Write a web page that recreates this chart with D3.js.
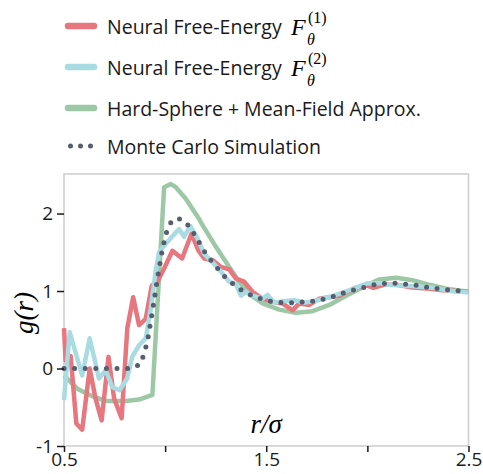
<!DOCTYPE html>
<html>
<head>
<meta charset="utf-8">
<script src="https://cdn.jsdelivr.net/npm/d3@7"></script>
<style>
  body { margin: 0; background: #fff; }
  svg { display: block; }
  .tick text { font-family: 'Open Sans', Lato, sans-serif; font-size: 19px; fill: #1a1a1a; }
  .tick line { stroke: #1a1a1a; stroke-width: 1.5; }
</style>
</head>
<body>
<svg width="483" height="474"></svg>
<script>
// values
const rRed = [0.500, 0.508, 0.533, 0.561, 0.590, 0.627, 0.656, 0.686, 0.720, 0.748, 0.785, 0.813, 0.842, 0.871, 0.904, 0.934, 0.962, 0.995, 1.036, 1.084, 1.130, 1.165, 1.193, 1.234, 1.276, 1.317, 1.350, 1.391, 1.432, 1.482, 1.531, 1.580, 1.630, 1.663, 1.713, 1.762, 1.812, 1.861, 1.900, 1.950, 2.000, 2.030, 2.080, 2.145, 2.210, 2.310, 2.370, 2.500]
const gRed = [0.52, 0.10, 0.16, -0.71, -0.79, 0.00, -0.39, -0.67, 0.15, -0.39, -0.64, 0.52, 0.92, 0.56, 0.64, 1.07, 1.12, 1.29, 1.52, 1.42, 1.74, 1.52, 1.42, 1.40, 1.31, 1.28, 1.16, 1.12, 0.99, 0.90, 0.86, 0.84, 0.75, 0.84, 0.82, 0.90, 0.92, 0.94, 0.99, 1.05, 1.07, 1.04, 1.08, 1.08, 1.05, 1.03, 1.01, 0.99]

const rBlue = [0.500, 0.528, 0.590, 0.627, 0.673, 0.706, 0.739, 0.775, 0.812, 0.837, 0.871, 0.904, 0.929, 0.953, 0.970, 1.003, 1.069, 1.094, 1.124, 1.160, 1.193, 1.234, 1.276, 1.317, 1.350, 1.375, 1.400, 1.432, 1.482, 1.507, 1.540, 1.590, 1.640, 1.690, 1.740, 1.795, 1.845, 1.900, 1.950, 2.000, 2.070, 2.100, 2.170, 2.230, 2.330, 2.370, 2.420, 2.500]
const gBlue = [-0.41, 0.47, -0.09, 0.39, -0.13, -0.02, -0.24, -0.28, -0.13, 0.15, 0.30, 0.39, 0.77, 1.25, 1.50, 1.61, 1.80, 1.70, 1.84, 1.68, 1.48, 1.37, 1.25, 1.12, 1.09, 0.94, 0.99, 0.94, 0.90, 0.95, 0.85, 0.87, 0.88, 0.85, 0.87, 0.91, 0.95, 1.00, 1.05, 1.10, 1.10, 1.08, 1.07, 1.06, 1.04, 1.02, 1.00, 0.98]

const rGreen = [0.500, 0.566, 0.624, 0.707, 0.806, 0.871, 0.937, 0.995, 1.028, 1.053, 1.102, 1.168, 1.185, 1.251, 1.317, 1.366, 1.416, 1.482, 1.564, 1.647, 1.729, 1.812, 1.895, 1.994, 2.059, 2.142, 2.224, 2.307, 2.390, 2.500]
const gGreen = [-0.09, -0.26, -0.34, -0.42, -0.42, -0.40, -0.34, 2.34, 2.38, 2.34, 2.19, 1.93, 1.85, 1.57, 1.31, 1.12, 0.96, 0.84, 0.76, 0.72, 0.74, 0.82, 0.94, 1.07, 1.15, 1.17, 1.14, 1.08, 1.03, 0.99]

const rMC = [0.500, 0.830, 0.880, 0.912, 0.937, 0.962, 0.987, 1.011, 1.036, 1.080, 1.122, 1.172, 1.201, 1.234, 1.267, 1.300, 1.342, 1.383, 1.432, 1.482, 1.531, 1.584, 1.639, 1.688, 1.743, 1.792, 1.845, 1.895, 1.944, 1.990, 2.046, 2.100, 2.153, 2.204, 2.257, 2.310, 2.361, 2.414, 2.500]
const gMC = [0.00, 0.00, 0.06, 0.34, 0.73, 1.16, 1.55, 1.80, 1.92, 1.93, 1.83, 1.61, 1.48, 1.37, 1.27, 1.17, 1.08, 1.00, 0.94, 0.89, 0.86, 0.85, 0.85, 0.86, 0.87, 0.90, 0.94, 0.99, 1.02, 1.05, 1.09, 1.10, 1.10, 1.08, 1.07, 1.04, 1.03, 1.01, 0.99]

const xTicks = [0.5, 1, 1.5, 2, 2.5]
const xTickLabels = ['0.5', '', '1.5', '', '2.5']
const yTicks = [-1, 0, 1, 2]

const legendNames = ['Neural Free-Energy', 'Neural Free-Energy', 'Hard-Sphere + Mean-Field Approx.', 'Monte Carlo Simulation']
const legendSup = ['(1)', '(2)', null, null]

const svg = d3.select('svg')
const sans = "'Open Sans', Lato, sans-serif"
const serif = "'Liberation Serif', 'DejaVu Serif', serif"

const colors = { red: '#e8767e', blue: '#a9dbe2', green: '#9dc8a6', mc: '#555d6f' }

const xScale = d3.scaleLinear().domain([0.5, 2.5]).range([64, 468.5])
const yScale = d3.scaleLinear().domain([-1, 2.51]).range([446, 174])

// frame
svg.append('rect')
    .attr('x', xScale(0.5)).attr('y', yScale(2.51))
    .attr('width', xScale(2.5) - xScale(0.5))
    .attr('height', yScale(-1) - yScale(2.51))
    .attr('fill', 'none').attr('stroke', '#cfcfcf').attr('stroke-width', 1.6)

const line = d3.line().x(d => xScale(d[0])).y(d => yScale(d[1]))
const zip = (a, b) => a.map((v, i) => [v, b[i]])

const series = [
    { pts: zip(rGreen, gGreen), color: colors.green },
    { pts: zip(rRed, gRed), color: colors.red },
    { pts: zip(rBlue, gBlue), color: colors.blue }
]

svg.append('g').selectAll('path')
    .data(series)
    .enter()
    .append('path')
    .attr('d', d => line(d.pts))
    .attr('fill', 'none')
    .attr('stroke', d => d.color)
    .attr('stroke-width', 4.5)
    .attr('stroke-linejoin', 'round')

svg.append('path')
    .attr('d', line(zip(rMC, gMC)))
    .attr('fill', 'none')
    .attr('stroke', colors.mc)
    .attr('stroke-width', 5)
    .attr('stroke-linecap', 'round')
    .attr('stroke-dasharray', '0,10.6')

// axes
const xAxis = d3.axisBottom(xScale).tickValues(xTicks)
    .tickFormat((d, i) => xTickLabels[i]).tickSize(6).tickPadding(1)
const gx = svg.append('g').attr('transform', `translate(0,${yScale(-1)})`).call(xAxis)
gx.select('.domain').remove()

const yAxis = d3.axisLeft(yScale).tickValues(yTicks)
    .tickFormat(d => d < 0 ? '-' + Math.abs(d) : d).tickSize(7).tickPadding(4)
const gy = svg.append('g').attr('transform', `translate(${xScale(0.5)},0)`).call(yAxis)
gy.select('.domain').remove()

// axis titles
svg.append('text')
    .attr('transform', 'translate(33,313) rotate(-90)')
    .attr('text-anchor', 'middle')
    .style('font-family', serif).style('font-style', 'italic').style('font-size', '27px')
    .text('g(r)')

svg.append('text')
    .attr('x', xScale(1.5)).attr('y', 433)
    .attr('text-anchor', 'middle')
    .style('font-family', serif).style('font-style', 'italic').style('font-size', '27px')
    .text('r/σ')

// legend
const rowY = [26, 67, 108, 146]
const legendColors = [colors.red, colors.blue, colors.green, colors.mc]

const leg = svg.append('g')
legendNames.forEach((name, i) => {
    const y = rowY[i]
    if (i < 3) {
        leg.append('line')
            .attr('x1', 68).attr('x2', 94).attr('y1', y).attr('y2', y)
            .attr('stroke', legendColors[i]).attr('stroke-width', 6.5).attr('stroke-linecap', 'round')
    } else {
        leg.append('line')
            .attr('x1', 70.5).attr('x2', 91).attr('y1', y).attr('y2', y)
            .attr('stroke', legendColors[i]).attr('stroke-width', 5)
            .attr('stroke-linecap', 'round').attr('stroke-dasharray', '0,10')
    }
    leg.append('text')
        .attr('x', 107).attr('y', y + 7.5)
        .style('font-family', sans).style('font-size', '19.5px').style('fill', '#1a1a1a')
        .text(name)
    if (legendSup[i]) {
        leg.append('text')
            .attr('x', 291).attr('y', y + 9)
            .style('font-family', serif).style('font-style', 'italic').style('font-size', '24px')
            .text('F')
        leg.append('text')
            .attr('x', 307).attr('y', y + 19)
            .style('font-family', serif).style('font-style', 'italic').style('font-size', '16px')
            .text('θ')
        leg.append('text')
            .attr('x', 308).attr('y', y - 3)
            .style('font-family', serif).style('font-size', '16px')
            .text(legendSup[i])
    }
})
</script>
</body>
</html>
